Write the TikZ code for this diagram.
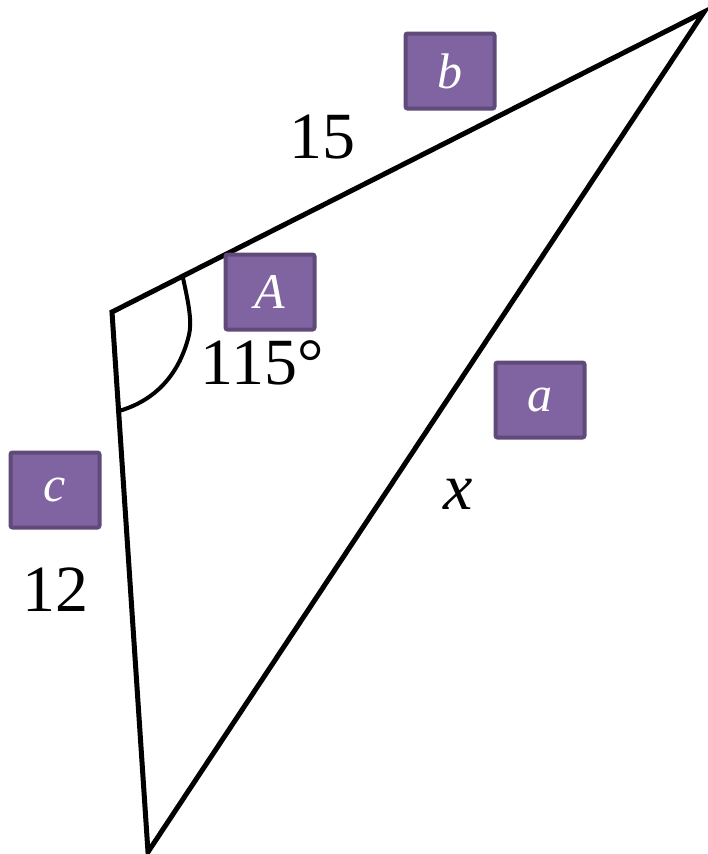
\documentclass[tikz,border=0pt]{standalone}
\usepackage{fontspec}
\setmainfont{Liberation Serif}
\usetikzlibrary{positioning}
\definecolor{boxpurple}{RGB}{128,100,162}
\definecolor{boxedge}{RGB}{95,74,122}

\begin{document}
\begin{tikzpicture}[
    x=1pt, y=-1pt,
    side/.style={line width=5pt, line join=miter},
    tagbox/.style={rectangle, rounded corners=2pt, fill=boxpurple, draw=boxedge, line width=4pt,
        minimum width=89pt, minimum height=75pt, inner sep=0pt, text=white,
        font=\fontsize{50}{54}\selectfont\itshape},
    numlabel/.style={inner sep=0pt, font=\fontsize{66}{70}\selectfont}
]
    \useasboundingbox (0,0) rectangle (707,854);
    % vertices
    \coordinate (top) at (704,12);
    \coordinate (left) at (112,312);
    \coordinate (bottom) at (148,852);

    \draw[side] (left) -- (top) -- (bottom) -- cycle;
    \draw[line width=4pt] (183,278) .. controls (189,305) and (192,322) .. (189,335)
        .. controls (178,380) and (150,402) .. (119,411);

    \node[tagbox] (tagb) at (450,71) {b};
    \node[tagbox] (tagA) at (270,292) {A};
    \node[tagbox] (taga) at (540,400) {a};
    \node[tagbox] (tagc) at (55,490) {c};

    \node[numlabel] (lenb) at (322,137) {15};
    \node[numlabel] (angA) at (262,363) {115°};
    \node[numlabel, font=\fontsize{66}{70}\selectfont\itshape] (lena) at (458,494) {x};
    \node[numlabel] (lenc) at (55,590) {12};
\end{tikzpicture}
\end{document}
